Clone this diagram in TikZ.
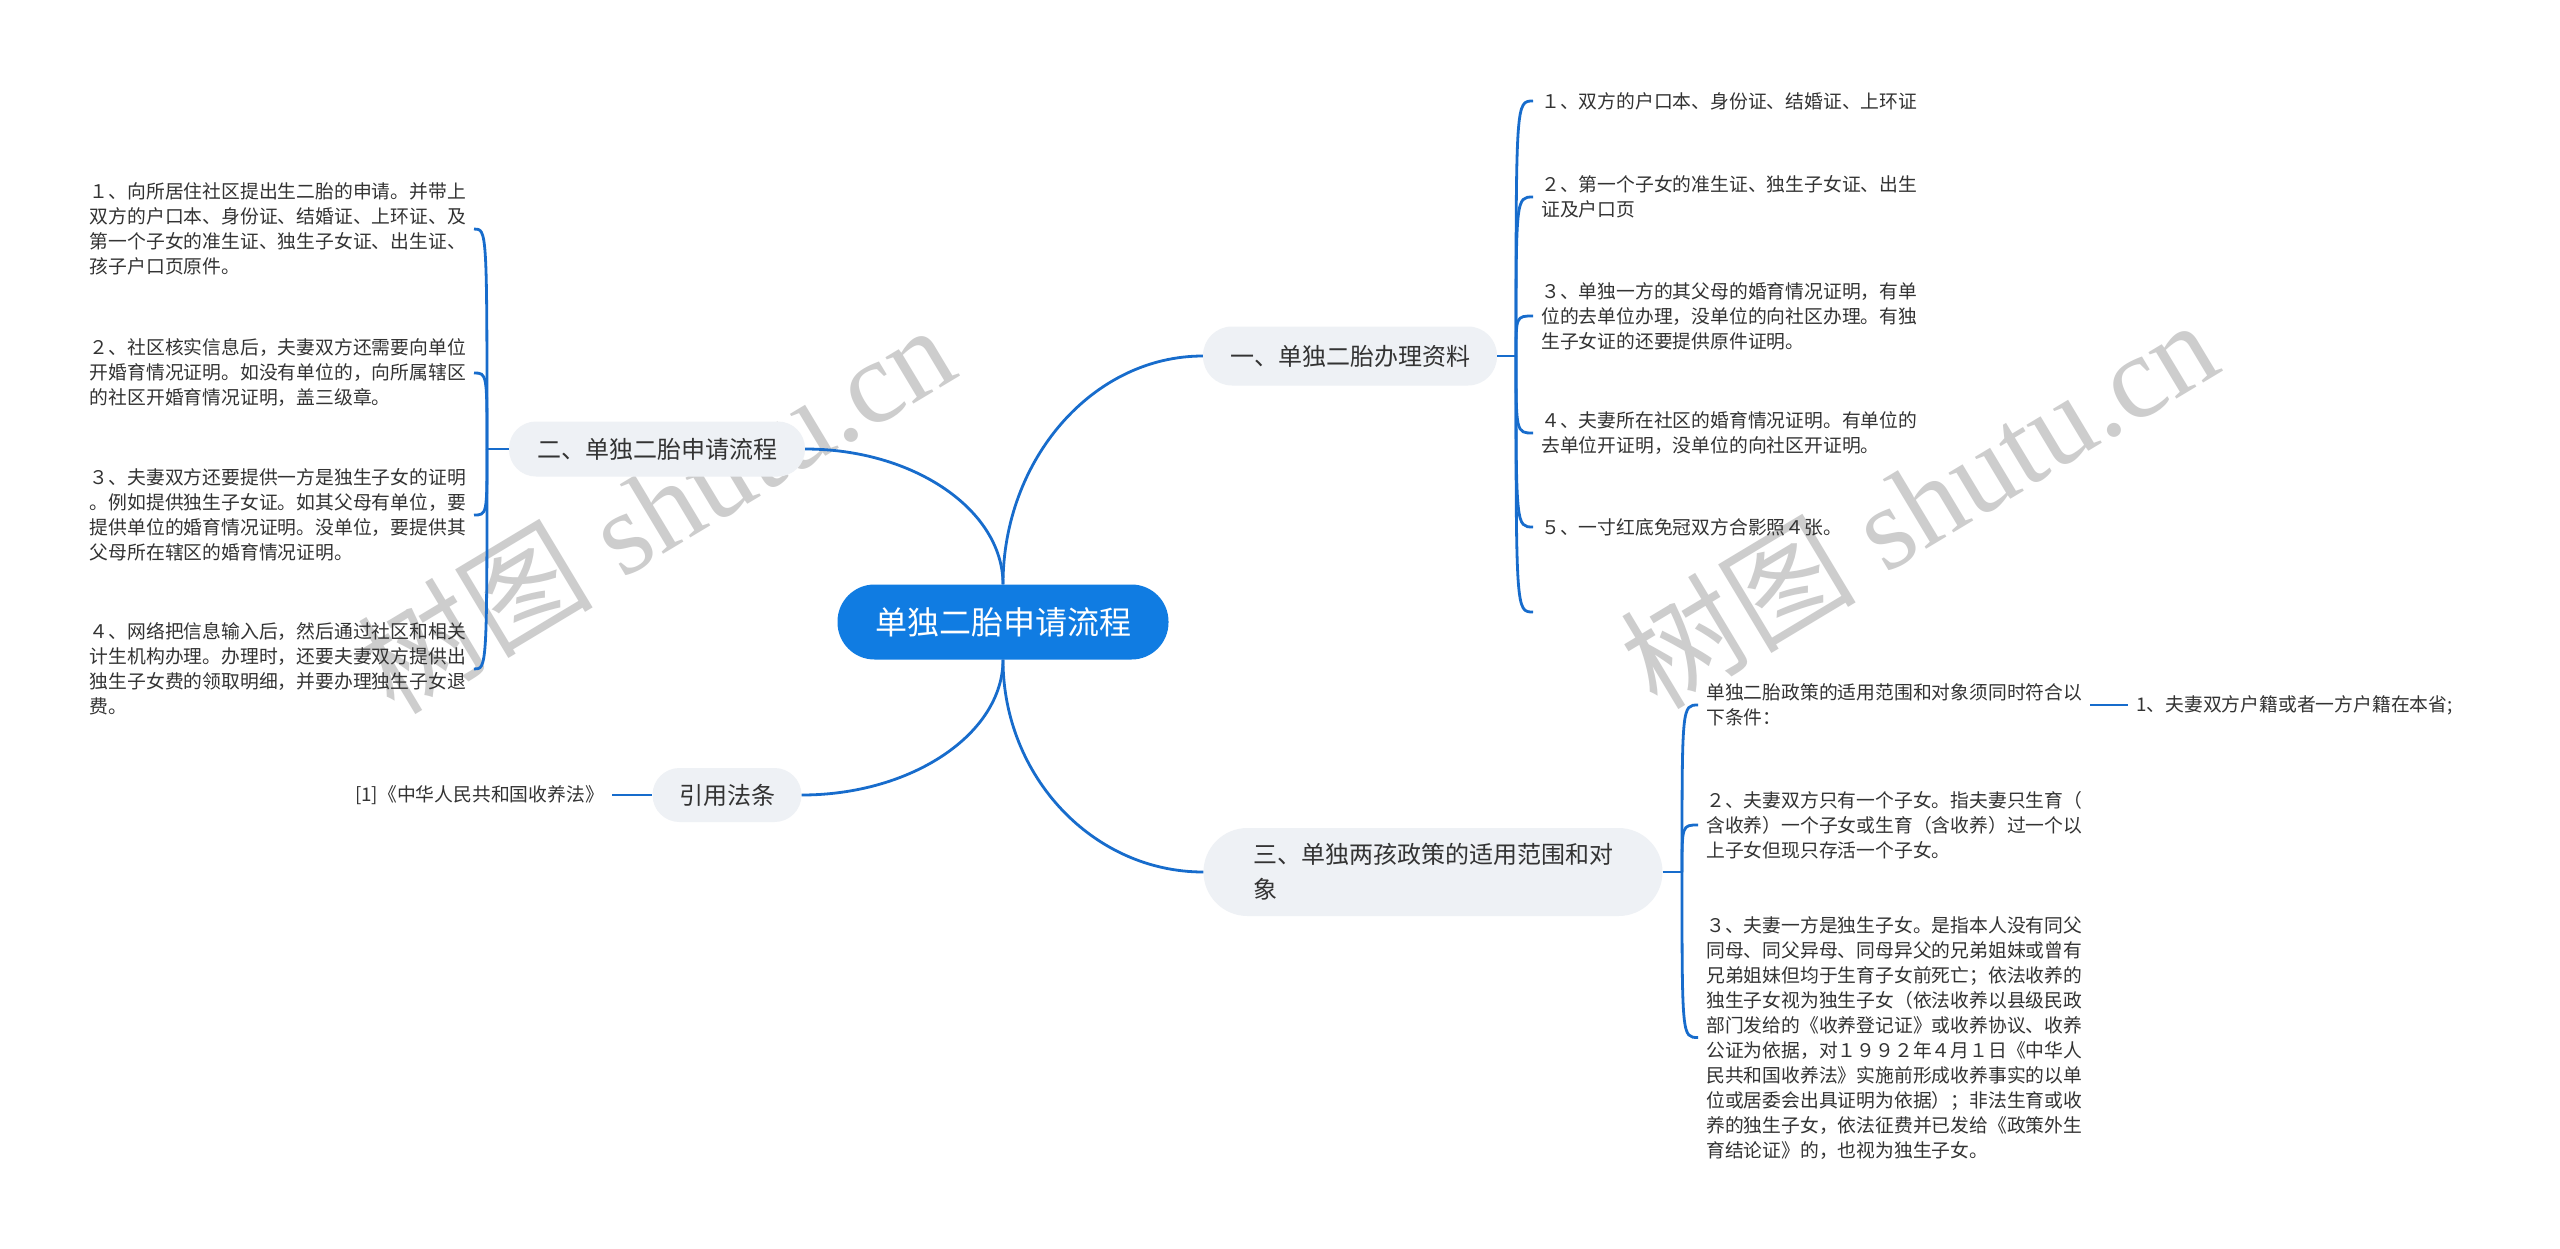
\documentclass[tikz,border=0pt]{standalone}
\usepackage{fontspec}
\setmainfont{Noto Sans CJK SC}
\newfontfamily\wmlatin{Liberation Serif}
\definecolor{rootblue}{RGB}{16,124,226}
\definecolor{linkblue}{RGB}{23,108,204}
\definecolor{branchfill}{RGB}{238,241,245}
\definecolor{txt}{RGB}{51,51,51}
\definecolor{wm}{RGB}{205,205,205}
\begin{document}
\begin{tikzpicture}[x=1pt,y=-1pt,
  rootnode/.style={fill=rootblue, text=white, rounded corners=37pt, minimum width=331pt, minimum height=75pt, inner sep=0pt, font=\fontsize{32}{38}\selectfont},
  branch/.style={fill=branchfill, text=txt, inner sep=0pt, font=\fontsize{24}{35}\selectfont},
  leaf/.style={text=txt, inner xsep=8pt, inner ysep=0pt, align=left, font=\fontsize{18.8}{25}\selectfont},
  conn/.style={draw=linkblue, line width=2.8pt},
  wmark/.style={text=wm, rotate=31, inner sep=0pt},
]
\fill[white] (0,0) rectangle (2560,1248);
\useasboundingbox (0,0) rectangle (2560,1248);

% watermarks
\node[wmark] (wm1) at (655,507) {{\fontsize{118}{118}\selectfont 树图}\hspace{30pt}{\wmlatin\fontsize{118}{118}\selectfont shutu.cn}};
\node[wmark] (wm2) at (1918,502) {{\fontsize{118}{118}\selectfont 树图}\hspace{30pt}{\wmlatin\fontsize{118}{118}\selectfont shutu.cn}};

% root and branches
\node[rootnode] (root) at (1003,622) {单独二胎申请流程};
\node[branch, minimum width=294pt, minimum height=59pt, rounded corners=29pt] (b1) at (1350,356) {一、单独二胎办理资料};
\node[branch, minimum width=296pt, minimum height=55pt, rounded corners=27pt] (b2) at (657,449) {二、单独二胎申请流程};
\node[branch, minimum width=149pt, minimum height=54pt, rounded corners=27pt] (b3) at (727,795) {引用法条};
\node[branch, minimum width=459pt, minimum height=88pt, rounded corners=44pt, align=left] (b4) at (1433,872) {三、单独两孩政策的适用范围和对\\象};

% leaves of b1
\node[leaf, anchor=west] (a1) at (1533,101) {１、双方的户口本、身份证、结婚证、上环证};
\node[leaf, anchor=west] (a2) at (1533,197) {２、第一个子女的准生证、独生子女证、出生\\证及户口页};
\node[leaf, anchor=west] (a3) at (1533,316) {３、单独一方的其父母的婚育情况证明，有单\\位的去单位办理，没单位的向社区办理。有独\\生子女证的还要提供原件证明。};
\node[leaf, anchor=west] (a4) at (1533,433) {４、夫妻所在社区的婚育情况证明。有单位的\\去单位开证明，没单位的向社区开证明。};
\node[leaf, anchor=west] (a5) at (1533,527) {５、一寸红底免冠双方合影照４张。};
\coordinate (a6) at (1533,612);

% leaves of b2
\node[leaf, anchor=east] (c1) at (474,229) {１、向所居住社区提出生二胎的申请。并带上\\双方的户口本、身份证、结婚证、上环证、及\\第一个子女的准生证、独生子女证、出生证、\\孩子户口页原件。};
\node[leaf, anchor=east] (c2) at (474,373) {２、社区核实信息后，夫妻双方还需要向单位\\开婚育情况证明。如没有单位的，向所属辖区\\的社区开婚育情况证明，盖三级章。};
\node[leaf, anchor=east] (c3) at (474,515) {３、夫妻双方还要提供一方是独生子女的证明\\。例如提供独生子女证。如其父母有单位，要\\提供单位的婚育情况证明。没单位，要提供其\\父母所在辖区的婚育情况证明。};
\node[leaf, anchor=east] (c4) at (474,669) {４、网络把信息输入后，然后通过社区和相关\\计生机构办理。办理时，还要夫妻双方提供出\\独生子女费的领取明细，并要办理独生子女退\\费。};

% leaf of b3
\node[leaf, anchor=east] (cite) at (612,795) {[1]《中华人民共和国收养法》};

% leaves of b4
\node[leaf, anchor=west] (s1) at (1698,705) {单独二胎政策的适用范围和对象须同时符合以\\下条件：};
\node[leaf, anchor=west] (s1c) at (2128,705) {1、夫妻双方户籍或者一方户籍在本省;};
\node[leaf, anchor=west] (s2) at (1698,825) {２、夫妻双方只有一个子女。指夫妻只生育（\\含收养）一个子女或生育（含收养）过一个以\\上子女但现只存活一个子女。};
\node[leaf, anchor=west] (s3) at (1698,1037.5) {３、夫妻一方是独生子女。是指本人没有同父\\同母、同父异母、同母异父的兄弟姐妹或曾有\\兄弟姐妹但均于生育子女前死亡；依法收养的\\独生子女视为独生子女（依法收养以县级民政\\部门发给的《收养登记证》或收养协议、收养\\公证为依据，对１９９２年４月１日《中华人\\民共和国收养法》实施前形成收养事实的以单\\位或居委会出具证明为依据）；非法生育或收\\养的独生子女，依法征费并已发给《政策外生\\育结论证》的，也视为独生子女。};

% root connectors
\draw[conn] (root.north) .. controls +(0,-125) and +(-110,0) .. (b1.west);
\draw[conn] (root.north) .. controls +(0,-74) and +(109,0) .. (b2.east);
\draw[conn] (root.south) .. controls +(0,74) and +(110,0) .. (b3.east);
\draw[conn] (root.south) .. controls +(0,117) and +(-110,0) .. (b4.west);

% b1 bracket
\coordinate (j1) at (1516,356);
\draw[conn] (b1.east) -- (j1);
\foreach \n in {a1,a2,a3,a4,a5}
  \draw[conn] (j1) .. controls (j1 |- \n.west) .. (\n.west);
\draw[conn] (j1) .. controls (j1 |- a6) .. (a6);

% b2 bracket
\coordinate (j2) at (487,449);
\draw[conn] (b2.west) -- (j2);
\foreach \n in {c1,c2,c3,c4}
  \draw[conn] (j2) .. controls (j2 |- \n.east) .. (\n.east);

% b3
\draw[conn] (cite.east) -- (b3.west);

% b4 bracket
\coordinate (j4) at (1682,872);
\draw[conn] (b4.east) -- (j4);
\foreach \n in {s1,s2,s3}
  \draw[conn] (j4) .. controls (j4 |- \n.west) .. (\n.west);
\draw[conn] (s1.east) -- (s1c.west);
\end{tikzpicture}
\end{document}
